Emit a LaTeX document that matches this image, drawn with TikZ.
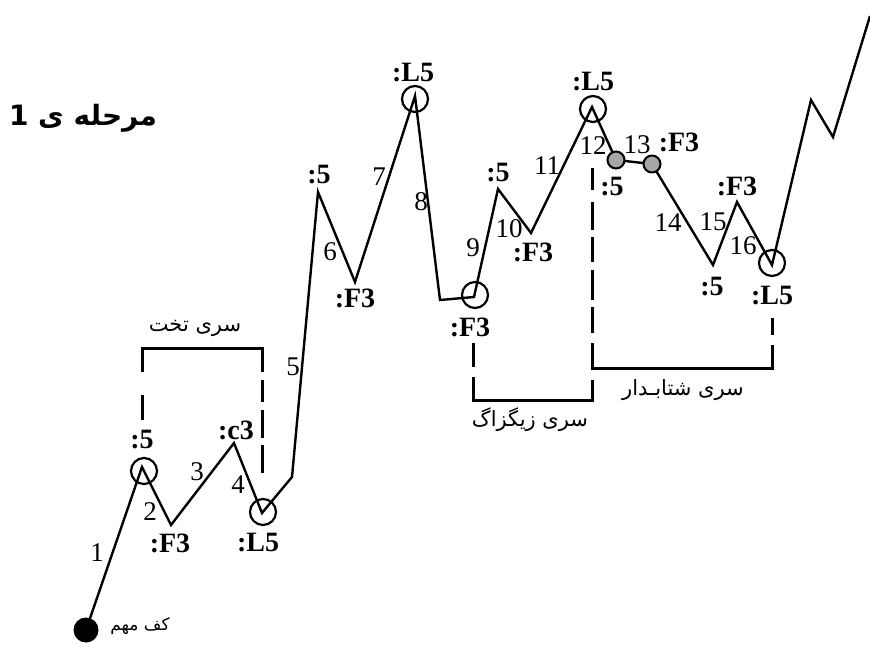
\documentclass[tikz,border=0pt]{standalone}
\usepackage{fontspec}
\setmainfont{Liberation Serif}
\newfontfamily\arabicfont[Script=Arabic]{DejaVu Sans}
\TeXXeTstate=1
\begin{document}
\begin{tikzpicture}[x=1pt,y=-1pt,
  wave/.style={line width=2.4pt,line join=miter},
  ring/.style={circle,draw,line width=2.2pt,minimum size=26pt,inner sep=0pt},
  grayball/.style={circle,draw,line width=2pt,fill=gray!70,minimum size=17pt,inner sep=0pt},
  blackball/.style={circle,fill=black,minimum size=25pt,inner sep=0pt},
  lbl/.style={font=\fontsize{28}{28}\selectfont\bfseries,inner sep=0pt},
  num/.style={font=\fontsize{27}{27}\selectfont,inner sep=0pt},
  fa/.style={font=\arabicfont\fontsize{21}{21}\selectfont,inner sep=0pt},
  bracket/.style={line width=3pt}]
\useasboundingbox (0,0) rectangle (870,646);
% path points
\coordinate (p0) at (86,630);
\coordinate (p1) at (142,467);
\coordinate (p2) at (171,525);
\coordinate (p3) at (234,443);
\coordinate (p4) at (262,513);
\coordinate (p4a) at (292,477);
\coordinate (p5) at (318,192);
\coordinate (p6) at (355,282);
\coordinate (p7) at (415,96);
\coordinate (p8) at (440,300);
\coordinate (p8a) at (474,297);
\coordinate (p9) at (498,189);
\coordinate (p10) at (531,233);
\coordinate (p11) at (592,107);
\coordinate (p12) at (616,160);
\coordinate (p13) at (652,164);
\coordinate (p14) at (713,265);
\coordinate (p15) at (737,202);
\coordinate (p16) at (772,265);
\coordinate (p17) at (811,100);
\coordinate (p18) at (833,137);
\coordinate (p19) at (870,16);
\draw[wave] (p0) -- (p1) -- (p2) -- (p3) -- (p4) -- (p4a) -- (p5) -- (p6) -- (p7) -- (p8) -- (p8a) -- (p9) -- (p10) -- (p11) -- (p12) -- (p13) -- (p14) -- (p15) -- (p16) -- (p17) -- (p18) -- (p19);
% markers
\node[blackball] (b0) at (p0) {};
\node[ring] (c1) at (144,471) {};
\node[ring] (c4) at (263,512) {};
\node[ring] (c7) at (415,99) {};
\node[ring] (c8) at (475,295) {};
\node[ring] (c11) at (593,109) {};
\node[ring] (c16) at (772,263) {};
\node[grayball] (g12) at (p12) {};
\node[grayball] (g13) at (p13) {};
% bold labels
\node[lbl] (l1) at (142,440) {:5};
\node[lbl] (l2) at (170,543) {:F3};
\node[lbl] (l3) at (236,430) {:c3};
\node[lbl] (l4) at (258,543) {:L5};
\node[lbl] (l5) at (319,175) {:5};
\node[lbl] (l6) at (355,298) {:F3};
\node[lbl] (l7) at (413,73) {:L5};
\node[lbl] (l8) at (470,327) {:F3};
\node[lbl] (l9) at (498,173) {:5};
\node[lbl] (l10) at (533,252) {:F3};
\node[lbl] (l11) at (593,82) {:L5};
\node[lbl] (l13) at (679,142) {:F3};
\node[lbl] (l12) at (612,187) {:5};
\node[lbl] (l15) at (737,186) {:F3};
\node[lbl] (l14) at (712,287) {:5};
\node[lbl] (l16) at (772,296) {:L5};
% wave numbers
\node[num] (n1) at (97,553) {1};
\node[num] (n2) at (150,512) {2};
\node[num] (n3) at (197,472) {3};
\node[num] (n4) at (238,485) {4};
\node[num] (n5) at (293,367) {5};
\node[num] (n6) at (330,252) {6};
\node[num] (n7) at (379,177) {7};
\node[num] (n8) at (421,202) {8};
\node[num] (n9) at (473,248) {9};
\node[num] (n10) at (509,229) {10};
\node[num] (n11) at (547,166) {11};
\node[num] (n12) at (593,146) {12};
\node[num] (n13) at (637,145) {13};
\node[num] (n14) at (668,223) {14};
\node[num] (n15) at (713,222) {15};
\node[num] (n16) at (743,246) {16};
% Persian texts
\node[inner sep=0pt,font=\arabicfont\fontsize{28}{28}\selectfont\bfseries] (title) at (83,118) {\beginR مرحله ی \beginL 1\endL\endR};
\node[inner sep=0pt,font=\arabicfont\fontsize{17}{17}\selectfont] (t0) at (140,626) {\beginR کف مهم\endR};
\node[fa] (t1) at (195,328) {\beginR سری تخت\endR};
\node[fa] (t2) at (530,420) {\beginR سری زیگزاگ\endR};
\node[fa] (t3) at (683,390) {\beginR سری شتابـدار\endR};
% flat bracket
\draw[bracket] (142,372) -- (142,348) -- (262,348) -- (262,372);
\draw[bracket] (142,395) -- (142,420);
\draw[bracket] (262,380) -- (262,402);
\draw[bracket] (262,410) -- (262,438);
\draw[bracket] (262,445) -- (262,473);
% zigzag bracket
\draw[bracket] (473,343) -- (473,367);
\draw[bracket] (473,377) -- (473,400) -- (592,400) -- (592,380);
% shared dashed line and accelerating bracket
\draw[bracket] (592,168) -- (592,190);
\draw[bracket] (592,202) -- (592,230);
\draw[bracket] (592,237) -- (592,262);
\draw[bracket] (592,270) -- (592,300);
\draw[bracket] (592,307) -- (592,333);
\draw[bracket] (592,343) -- (592,368) -- (772,368) -- (772,345);
\draw[bracket] (772,335) -- (772,318);
\end{tikzpicture}
\end{document}
